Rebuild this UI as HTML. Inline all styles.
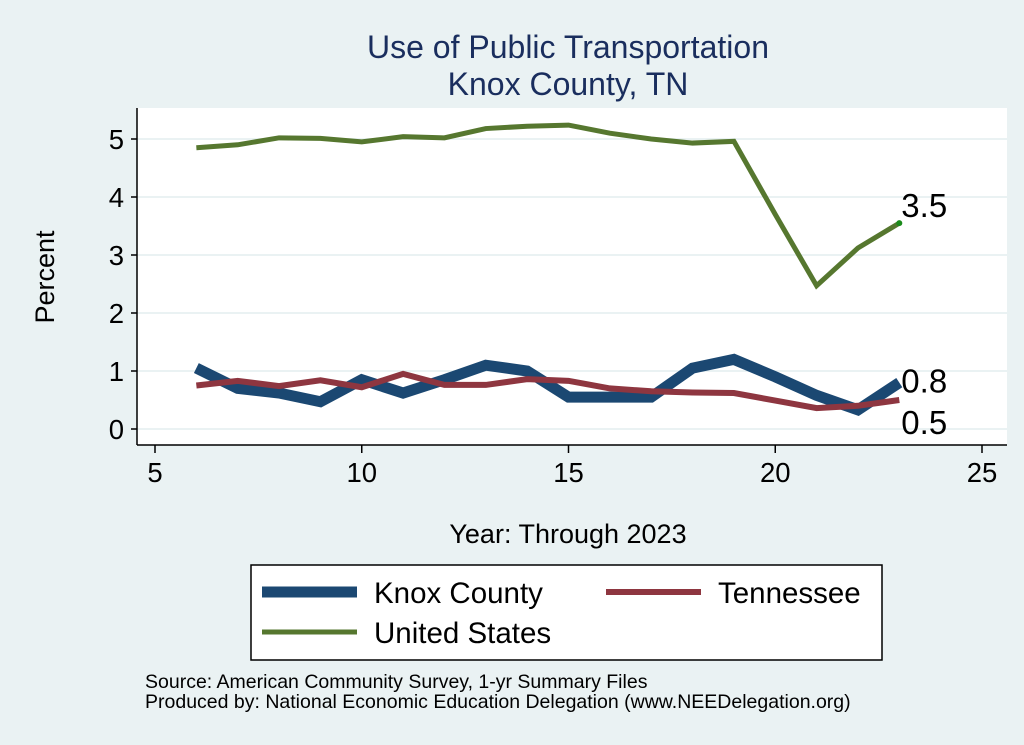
<!DOCTYPE html>
<html><head><meta charset="utf-8"><style>
body{margin:0;background:#eaf2f3;font-family:"Liberation Sans",sans-serif}
svg{display:block}
</style></head><body>
<svg width="1024" height="745">
<rect x="0" y="0" width="1024" height="745" fill="#eaf2f3"/>
<text x="568" y="58" font-size="32" fill="#1a2e5e" text-anchor="middle">Use of Public Transportation</text>
<text x="568" y="95" font-size="32" fill="#1a2e5e" text-anchor="middle">Knox County, TN</text>
<rect x="137" y="108" width="870" height="337" fill="#fff"/>
<g id="grid"></g><g id="axes"></g><g id="series"></g>
<text x="54" y="277" font-size="27" text-anchor="middle" transform="rotate(-90 54 277)" fill="#000">Percent</text>
<text x="568" y="543" font-size="27" text-anchor="middle" fill="#000">Year: Through 2023</text>
<rect x="251" y="565" width="631" height="95" fill="#fff" stroke="#000" stroke-width="1.5"/>
<g><line x1="262" y1="592" x2="357" y2="592" stroke="#1b4872" stroke-width="11"/><text x="374" y="603" font-size="29.5">Knox County</text></g>
<g><line x1="606" y1="592" x2="701" y2="592" stroke="#8e3640" stroke-width="6"/><text x="718" y="603" font-size="29.5">Tennessee</text></g>
<g><line x1="262" y1="632" x2="357" y2="632" stroke="#56772f" stroke-width="5"/><text x="374" y="643" font-size="29.5">United States</text></g>
<text x="145" y="688" font-size="19.5">Source: American Community Survey, 1-yr Summary Files</text>
<text x="145" y="708" font-size="19.5">Produced by: National Economic Education Delegation (www.NEEDelegation.org)</text>
</svg>
<script>
const years=[6,7,8,9,10,11,12,13,14,15,16,17,18,19,20,21,22,23];
const usVals=[4.85,4.9,5.02,5.01,4.95,5.04,5.02,5.18,5.22,5.24,5.1,5.0,4.93,4.96,3.7,2.47,3.12,3.55];
const knoxVals=[1.05,0.7,0.62,0.47,0.85,0.62,0.85,1.1,1.0,0.55,0.55,0.55,1.05,1.2,0.9,0.58,0.33,0.8];
const tnVals=[0.75,0.83,0.74,0.84,0.72,0.95,0.76,0.76,0.86,0.83,0.7,0.65,0.63,0.62,0.49,0.36,0.4,0.5];
const xTicks=[5,10,15,20,25];
const yTicks=[0,1,2,3,4,5];
const NS="http://www.w3.org/2000/svg";
const X=v=>155+(v-5)*41.35;
const Y=v=>429-v*58;
function mk(t,a,p){const e=document.createElementNS(NS,t);for(const k in a)e.setAttribute(k,a[k]);p.appendChild(e);return e;}
const grid=document.getElementById('grid'),axes=document.getElementById('axes'),ser=document.getElementById('series');
yTicks.forEach(v=>{
 const g=mk('line',{x1:137,x2:1007,y1:Y(v),y2:Y(v),stroke:'#eaf2f3','stroke-width':2},grid);
 
 
 mk('line',{x1:131,x2:137,y1:Y(v),y2:Y(v),stroke:'#000','stroke-width':1.5},axes);
 const t=mk('text',{x:124,y:Y(v)+10,'font-size':27.5,'text-anchor':'end'},axes);t.textContent=v;
 
 
});
xTicks.forEach(v=>{
 mk('line',{x1:X(v),x2:X(v),y1:445,y2:453,stroke:'#000','stroke-width':1.5},axes);
 const t=mk('text',{x:X(v),y:482,'font-size':27.5,'text-anchor':'middle'},axes);t.textContent=v;
 
 
});
mk('line',{x1:137,x2:137,y1:108,y2:445,stroke:'#000','stroke-width':1.5},axes);
mk('line',{x1:137,x2:1007,y1:445,y2:445,stroke:'#000','stroke-width':1.5},axes);
function line(vals,col,w,name){
 const p=mk('polyline',{points:vals.map((v,i)=>X(years[i])+','+Y(v)).join(' '),fill:'none',stroke:col,'stroke-width':w,'stroke-linejoin':'miter'},ser);
 
 
}
line(usVals,'#56772f',5,'line-united-states');
line(knoxVals,'#1b4872',11,'line-knox-county');
line(tnVals,'#8e3640',6,'line-tennessee');
const n=years.length-1;
mk('circle',{cx:X(years[n]),cy:Y(usVals[n]),r:3,fill:'#1a8a1a'},ser);
[[usVals,-6,'label-us-last'],[knoxVals,10,'label-knox-last'],[tnVals,34,'label-tn-last']].forEach(([a,dy,nm])=>{
 const t=mk('text',{x:X(years[n])+2,y:Y(a[n])+dy,'font-size':33},ser);t.textContent=a[n].toFixed(1);
 
 
});
</script>
</body></html>
